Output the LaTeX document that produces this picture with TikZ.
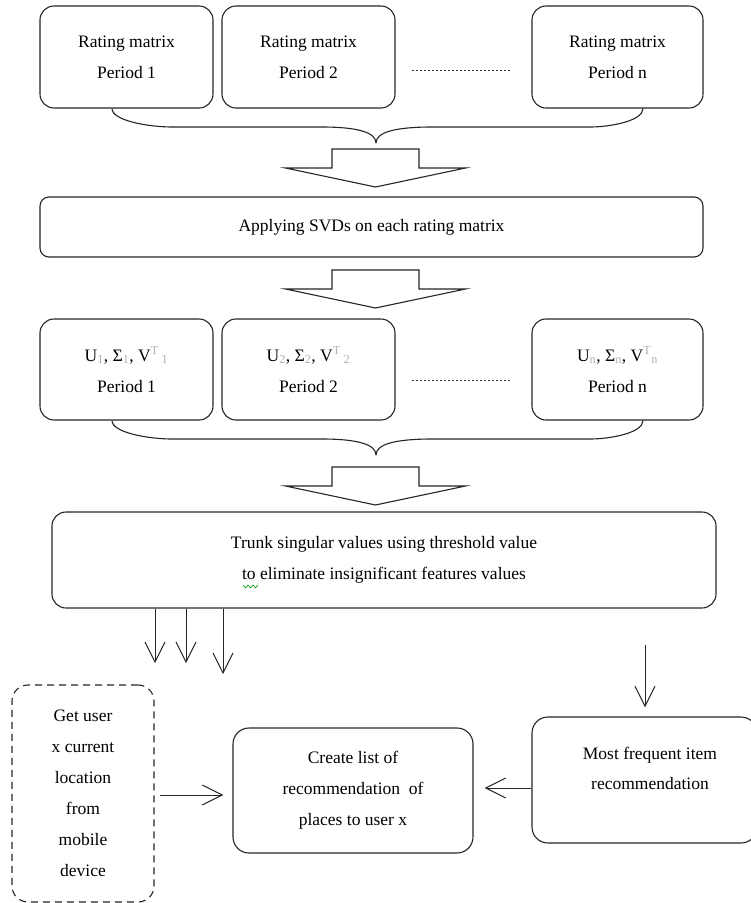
\documentclass[tikz,border=0pt]{standalone}
\usepackage{fontspec}
\setmainfont{Liberation Serif}
\usetikzlibrary{arrows.meta,calc}
\newcommand\lsub[1]{\textsubscript{\textcolor{gray!60}{#1}}}
\newcommand\lsup[1]{\textsuperscript{\textcolor{gray!60}{#1}}}
\begin{document}
\begin{tikzpicture}[x=1pt,y=-1pt,line join=round,
  box/.style={draw=black!85, line width=1.1pt, rounded corners=14pt, align=center, inner sep=0pt,
    font=\fontsize{17.5}{31}\selectfont},
  dbox/.style={box, dash pattern=on 7pt off 5pt},
  txt/.style={align=center, inner sep=0pt, font=\fontsize{17.5}{30}\selectfont},
  brace/.style={draw=black!85, line width=1.1pt},
  block/.style={draw=black!85, line width=1.1pt, line join=miter},
  dots/.style={draw=black!80, line width=0.9pt, dash pattern=on 1.5pt off 2.5pt},
  arr/.style={draw=black!85, line width=1pt, -{Straight Barb[length=20pt,width=20pt]}}
]
\useasboundingbox[fill=white] (0,0) rectangle (751,903);

% top row
\node[box, minimum width=173pt, minimum height=102pt] (b1) at (126.5,57) {Rating matrix\\Period 1};
\node[box, minimum width=173pt, minimum height=102pt] (b2) at (308.5,57) {Rating matrix\\Period 2};
\node[box, minimum width=171pt, minimum height=102pt] (b3) at (617.5,57) {Rating matrix\\Period n};
\coordinate (d1a) at (412,70);
\coordinate (d1b) at (512,70);
\draw[dots] (d1a) -- (d1b);

% brace 1
\draw[brace] (b1.south -| 112,0) .. controls (112,121) and (150,127) .. (172,127) -- (322,127)
  .. controls (356,127) and (376,132) .. (376,143)
  .. controls (376,132) and (396,127) .. (432,127) -- (590,127)
  .. controls (610,127) and (643,121) .. (b3.south -| 643,0);

% hollow arrow 1
\draw[block] (375.5,149) ++(-43.5,0) -- ++(87,0) -- ++(0,19) -- ++(46.5,0) -- ++(-90,19)
  -- ++(-90,-19) -- ++(46.5,0) -- cycle;

% SVD box
\node[box, rounded corners=9pt, minimum width=663pt, minimum height=60pt] (svd) at (371.5,227)
  {Applying SVDs on each rating matrix};

% hollow arrow 2
\draw[block] (375.5,270) ++(-43.5,0) -- ++(87,0) -- ++(0,19) -- ++(46.5,0) -- ++(-90,19)
  -- ++(-90,-19) -- ++(46.5,0) -- cycle;

% middle row
\node[box, minimum width=173pt, minimum height=101pt] (m1) at (126.5,369.5)
  {U\lsub{1}, Σ\lsub{1}, V\lsup{T}\,\lsub{1}\\Period 1};
\node[box, minimum width=173pt, minimum height=101pt] (m2) at (308.5,369.5)
  {U\lsub{2}, Σ\lsub{2}, V\lsup{T}\,\lsub{2}\\Period 2};
\node[box, minimum width=171pt, minimum height=101pt] (m3) at (617.5,369.5)
  {U\lsub{n}, Σ\lsub{n}, V\lsup{T}\lsub{n}\\Period n};
\coordinate (d2a) at (412,380);
\coordinate (d2b) at (512,380);
\draw[dots] (d2a) -- (d2b);

% brace 2
\draw[brace] (m1.south -| 112,0) .. controls (112,433) and (150,439) .. (172,439) -- (322,439)
  .. controls (356,439) and (376,444) .. (376,455)
  .. controls (376,444) and (396,439) .. (432,439) -- (590,439)
  .. controls (610,439) and (643,433) .. (m3.south -| 643,0);

% hollow arrow 3
\draw[block] (375.5,467) ++(-43.5,0) -- ++(87,0) -- ++(0,19) -- ++(46.5,0) -- ++(-90,19)
  -- ++(-90,-19) -- ++(46.5,0) -- cycle;

% trunk box
\node[box, minimum width=664pt, minimum height=96pt] (trunk) at (384,560)
  {Trunk singular values using threshold value\\to eliminate insignificant features values};
\draw[green!60!black, line width=0.6pt] (243,585) -- (245.5,588) -- (248,585) -- (250.5,588) -- (253,585) -- (255.5,588) -- (258,585);

% three down arrows
\coordinate (t1) at (155,663);
\coordinate (t2) at (186,663);
\coordinate (t3) at (223,674);
\draw[arr] (trunk.south -| t1) -- (t1);
\draw[arr] (trunk.south -| t2) -- (t2);
\draw[arr] (trunk.south -| t3) -- (t3);

% bottom row
\node[dbox, rounded corners=16pt, minimum width=142pt, minimum height=217pt] (loc) at (83,793.5)
  {Get user\\x current\\location\\from\\mobile\\device};
\node[box, rounded corners=16pt, minimum width=240pt, minimum height=125pt] (create) at (353,790.5)
  {Create list of\\recommendation\ \ of\\places to user x};
\node[box, rounded corners=16pt, minimum width=225pt, minimum height=126pt] (most) at (644.5,780) {};
\node[txt] (mostt) at (650,768) {Most frequent item\\recommendation};

% right down arrow
\coordinate (r1) at (645,645);
\draw[arr, shorten >=9pt] (r1) -- (most.north -| r1);

% horizontal arrows
\coordinate (la) at (loc.east |- 0,795);
\draw[arr, shorten <=5pt, shorten >=9pt] (la) -- (create.west |- la);
\coordinate (ra) at (most.west |- 0,788);
\draw[arr, shorten >=11pt] (ra) -- (create.east |- ra);
\end{tikzpicture}
\end{document}
